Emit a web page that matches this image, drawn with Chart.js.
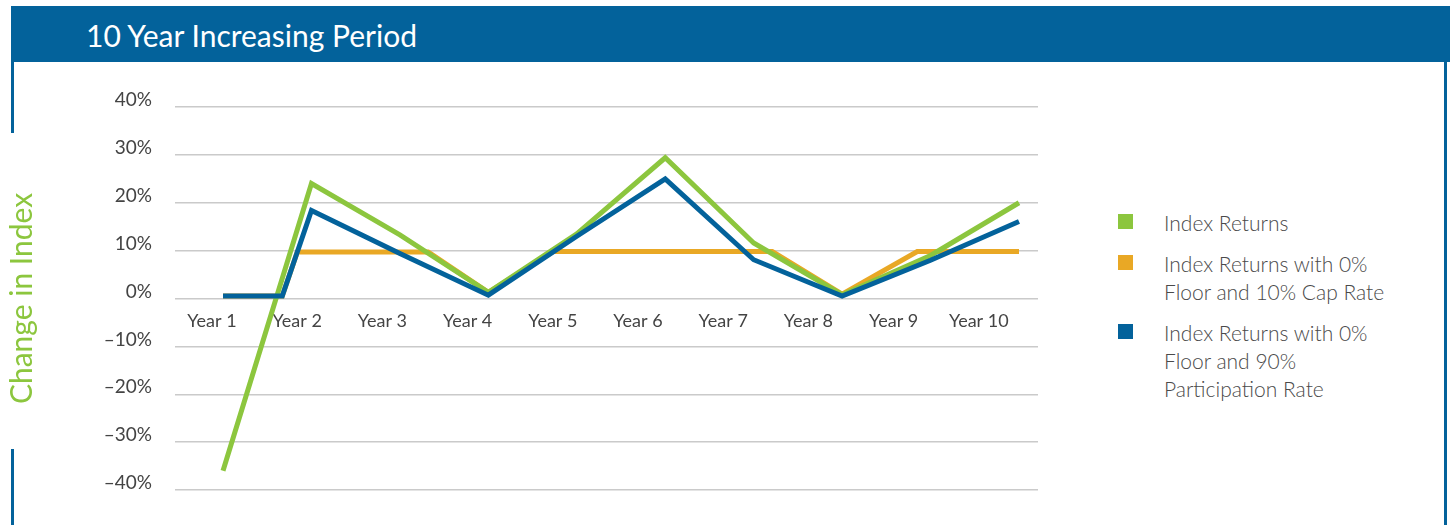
<!DOCTYPE html>
<html>
<head>
<meta charset="utf-8">
<script src="https://cdn.jsdelivr.net/npm/chart.js@4.4.0/dist/chart.umd.min.js"></script>
<style>
    html, body { margin: 0; padding: 0; background: #fff; }
    body { width: 1450px; height: 525px; position: relative; overflow: hidden; font-family: Lato, "Open Sans", sans-serif; }
    .header { position: absolute; left: 11px; top: 6px; width: 1439px; height: 56px; background: #03629b; }
    .header h1 { margin: 0; position: absolute; left: 75px; top: 0; line-height: 58px; color: #fff; font-weight: 400; font-size: 30px; }
    .rule { position: absolute; width: 3px; background: #03629b; }
    #chart-wrap { position: absolute; left: 0; top: 62px; width: 1050px; height: 463px; }
    #legend { position: absolute; left: 1118px; top: 209px; margin: 0; padding: 0; list-style: none; }
    #legend li { position: relative; padding-left: 46px; margin-bottom: 13px; font-size: 21px; line-height: 28px; color: #4a4a4a; font-weight: 300; }
    #legend li span { position: absolute; left: 0; top: 5px; width: 15px; height: 15px; }
</style>
</head>
<body>
<div class="header"><h1>10 Year Increasing Period</h1></div>
<div class="rule" style="left:11px; top:62px; height:71px;"></div>
<div class="rule" style="left:11px; top:449px; height:76px;"></div>
<div class="rule" style="left:1444px; top:62px; height:463px;"></div>
<div id="chart-wrap"><canvas id="returnsChart"></canvas></div>
<ul id="legend"></ul>

<script>
// 年份标签
const yearLabels = ['Year 1', 'Year 2', 'Year 3', 'Year 4', 'Year 5', 'Year 6', 'Year 7', 'Year 8', 'Year 9', 'Year 10'];
const yearValues = [1, 2, 3, 4, 5, 6, 7, 8, 9, 10];

// Index Returns
const indexX = [1, 2, 3, 4, 5, 6, 7, 8, 9, 10];
const indexReturns = [-36, 24, 13.3, 1.3, 13.5, 29.4, 11.6, 0.8, 9, 20];

// 0% floor / 10% cap (extra points where the index crosses floor or cap)
const capX = [1, 1.67, 1.84, 2, 3, 3.32, 4, 4.73, 5, 6, 7, 7.21, 8, 8.85, 9, 10];
const capReturns = [0.5, 0.5, 9.7, 9.7, 9.7, 9.7, 1.3, 9.8, 9.8, 9.8, 9.8, 9.8, 0.9, 9.8, 9.8, 9.8];

// 0% floor / 90% participation
const partX = [1, 1.67, 2, 3, 4, 5, 6, 7, 8, 9, 10];
const partReturns = [0.5, 0.5, 18.4, 9.4, 0.7, 13, 25, 8.1, 0.5, 8, 16.1];

const seriesNames = [
    ['Index Returns'],
    ['Index Returns with 0%', 'Floor and 10% Cap Rate'],
    ['Index Returns with 0%', 'Floor and 90%', 'Participation Rate']
];
const seriesColors = ['#8cc63e', '#e9a825', '#03629b'];

function toPoints(xs, ys) {
    return xs.map((x, i) => ({ x: x, y: ys[i] }));
}

function pct(v) {
    return (v < 0 ? '\u2013' + Math.abs(v) : v) + '%';
}

const ctx = document.getElementById('returnsChart').getContext('2d');
const chart = new Chart(ctx, {
    type: 'line',
    data: {
        datasets: [
            { label: seriesNames[0].join(' '), data: toPoints(indexX, indexReturns), borderColor: seriesColors[0], order: 1 },
            { label: seriesNames[1].join(' '), data: toPoints(capX, capReturns), borderColor: seriesColors[1], order: 2 },
            { label: seriesNames[2].join(' '), data: toPoints(partX, partReturns), borderColor: seriesColors[2], order: 0 }
        ]
    },
    options: {
        responsive: true,
        maintainAspectRatio: false,
        animation: false,
        layout: { padding: { left: 0, right: 12, top: 45, bottom: 35 } },
        elements: {
            line: { borderWidth: 5, tension: 0, borderJoinStyle: 'miter', borderCapStyle: 'butt' },
            point: { radius: 0, hoverRadius: 0 }
        },
        plugins: {
            legend: { display: false },
            tooltip: { enabled: false }
        },
        scales: {
            x: {
                type: 'linear',
                min: 0.457,
                max: 10.215,
                display: false
            },
            years: {
                type: 'linear',
                axis: 'x',
                position: { y: 0 },
                min: 0.566,
                max: 10.695,
                afterBuildTicks: function(axis) {
                    axis.ticks = yearValues.map(v => ({ value: v }));
                },
                ticks: {
                    callback: (v, i) => yearLabels[i],
                    color: '#444',
                    font: { family: 'Lato', size: 18 },
                    padding: 12,
                    maxRotation: 0,
                    autoSkip: false
                },
                grid: { display: false, drawTicks: false },
                border: { display: false }
            },
            y: {
                min: -40,
                max: 40,
                afterFit: function(scale) { scale.width = 175; },
                ticks: {
                    stepSize: 10,
                    callback: pct,
                    color: '#444',
                    font: { family: 'Lato', size: 19 },
                    padding: 23,
                    labelOffset: -7
                },
                grid: { color: '#cacaca', lineWidth: 1.5, drawTicks: false },
                border: { display: false },
                title: {
                    display: true,
                    text: 'Change in Index',
                    color: '#8cc63e',
                    font: { family: 'Lato', size: 30 },
                    padding: { top: 4, bottom: 0 }
                }
            }
        }
    }
});

// 图例
const legend = document.getElementById('legend');
chart.data.datasets.forEach(function(ds, i) {
    const li = document.createElement('li');
    const box = document.createElement('span');
    box.style.background = ds.borderColor;
    li.appendChild(box);
    seriesNames[i].forEach(function(line, j) {
        if (j > 0) li.appendChild(document.createElement('br'));
        li.appendChild(document.createTextNode(line));
    });
    legend.appendChild(li);
});
</script>
</body>
</html>
